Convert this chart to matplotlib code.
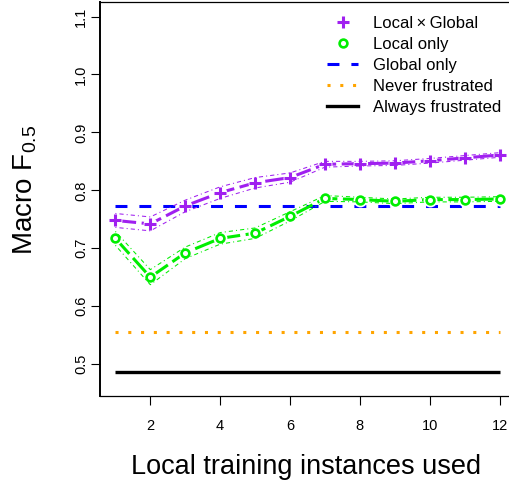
import matplotlib
matplotlib.use("Agg")
import matplotlib.pyplot as plt
from matplotlib.lines import Line2D
import numpy as np

plt.rcParams['font.family'] = ['Liberation Sans', 'DejaVu Sans']
plt.rcParams['mathtext.fontset'] = 'custom'
plt.rcParams['mathtext.rm'] = 'Liberation Sans'
plt.rcParams['mathtext.it'] = 'Liberation Sans:italic'
plt.rcParams['lines.scale_dashes'] = False

# data
n_local = np.arange(1, 13)
local_x_global = [0.748, 0.742, 0.773, 0.796, 0.813, 0.822, 0.845, 0.846, 0.847, 0.851, 0.856, 0.861]
local_x_global_err = [0.012, 0.012, 0.010, 0.010, 0.009, 0.008, 0.005, 0.004, 0.004, 0.004, 0.004, 0.004]
local_only = [0.717, 0.650, 0.692, 0.717, 0.726, 0.755, 0.786, 0.784, 0.781, 0.784, 0.784, 0.785]
local_only_err = [0.012, 0.013, 0.010, 0.010, 0.009, 0.008, 0.005, 0.004, 0.004, 0.004, 0.004, 0.004]
global_only = 0.773
never_frustrated = 0.556
always_frustrated = 0.486

labels = ['Local\u2009\u00d7\u2009Global', 'Local only', 'Global only',
          'Never frustrated', 'Always frustrated']

purple = '#A020F0'
green = '#00EE00'
blue = '#0000FF'
orange = '#FFA500'

fig = plt.figure(figsize=(5.09, 4.82), dpi=100)
ax = fig.add_axes([100/509, 86/482, 415/509, 394/482])
ax.set_xlim(0.56, 12.44)
ax.set_ylim(0.4448, 1.1252)

xs = [n_local[0], n_local[-1]]
ax.plot(xs, [always_frustrated]*2, color='black', lw=2.4, solid_capstyle='butt', zorder=2)
ax.plot(xs, [never_frustrated]*2, color=orange, lw=2.2, dashes=(2.2, 7.0), dash_capstyle='butt', zorder=2)
ax.plot(xs, [global_only]*2, color=blue, lw=2.2, dashes=(8.6, 8.6), dash_capstyle='butt', zorder=2)

def series(y, err, col, marker, ms, mew):
    y = np.array(y)
    err = np.array(err)
    ax.plot(n_local, y, color=col, lw=2.2, dashes=(15, 4), dash_capstyle='butt', zorder=3)
    # white disks give the R type="b" gaps round the points
    ax.plot(n_local, y, ls='none', marker='o', ms=10, mfc='white', mew=0, zorder=4)
    for b in (y - err, y + err):
        ax.plot(n_local, b, color=col, lw=0.75, dashes=(0.75, 2.2, 3, 2.2), zorder=5)
    ax.plot(n_local, y, ls='none', marker=marker, ms=ms, mew=mew, mec=col,
            mfc='white', zorder=6)

series(local_x_global, local_x_global_err, purple, '+', 8.5, 2.2)
series(local_only, local_only_err, green, 'o', 5.6, 1.9)

ax.set_xticks([2, 4, 6, 8, 10, 12])
ax.set_yticks([0.5, 0.6, 0.7, 0.8, 0.9, 1.0, 1.1])
ax.set_yticklabels(['0.5', '0.6', '0.7', '0.8', '0.9', '1.0', '1.1'])
ax.tick_params(axis='x', direction='out', length=6.5, width=0.8, labelsize=10.5, pad=10)
ax.tick_params(axis='y', direction='out', length=6.5, width=0.8, labelsize=10.5, pad=2,
               labelrotation=90)
for lab in ax.get_yticklabels():
    lab.set_va('center')
for s in ax.spines.values():
    s.set_linewidth(0.9)
ax.spines['left'].set_linewidth(1.4)

ax.set_xlabel('Local training instances used', fontsize=19.5)
ax.set_ylabel('Macro F$_{0.5}$', fontsize=20)
ax.xaxis.set_label_coords(0.4976, -0.146)
ax.yaxis.set_label_coords(-0.148, 0.523)

handles = [
    Line2D([], [], ls='none', marker='+', ms=8.5, mew=2.2, color=purple),
    Line2D([], [], ls='none', marker='o', ms=5.6, mew=1.9, mec=green, mfc='white'),
    Line2D([], [], color=blue, lw=2.2, dashes=(8.6, 8.6)),
    Line2D([], [], color=orange, lw=2.2, dashes=(2.2, 7.0)),
    Line2D([], [], color='black', lw=2.4),
]
ax.legend(handles, labels, loc='upper left', bbox_to_anchor=(0.547, 0.965),
          frameon=False, fontsize=12, handlelength=1.86, handletextpad=0.9,
          labelspacing=0.36, borderpad=0, borderaxespad=0)

fig.savefig('out.png', dpi=100)
